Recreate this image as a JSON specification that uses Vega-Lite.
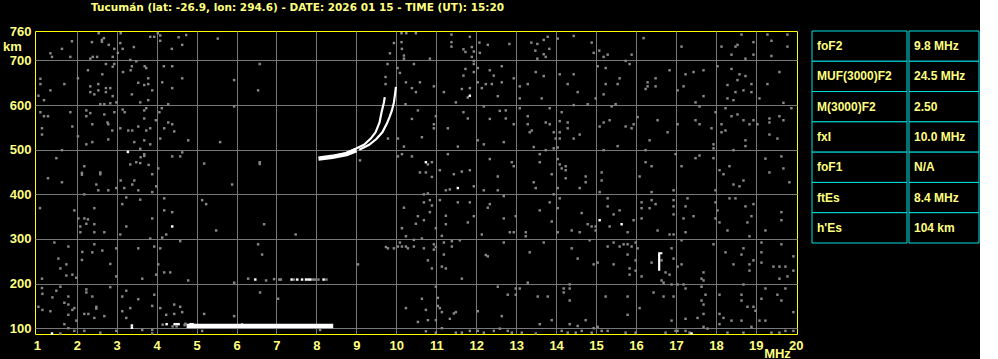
{
  "$schema": "https://vega.github.io/schema/vega-lite/v6.json",
  "background": "#000000",
  "padding": {"left": 2, "top": 2, "right": 0, "bottom": 0},
  "title": {"text": "Tucumán (lat: -26.9, lon: 294.6) - DATE: 2026 01 15 - TIME (UT): 15:20", "anchor": "start", "frame": "bounds", "dx": 89, "offset": 12, "font": "DejaVu Sans", "fontWeight": "bold", "fontSize": 10.5, "color": "#ffff80"},
  "spacing": 7,
  "config": {
    "view": {"stroke": null},
    "axis": {"ticks": false, "domain": false, "gridColor": "#777777", "gridWidth": 1, "labelFont": "Liberation Sans", "labelFontWeight": "bold", "labelFontSize": 13, "labelColor": "#ffff80", "titleFont": "Liberation Sans", "titleFontWeight": "bold", "titleFontSize": 13, "titleColor": "#ffff80", "labelFlush": false, "labelOverlap": false, "labelBound": false}
  },
  "datasets": {
    "noise": [
      {"f":2.55,"h":761,"amp":"lo"},{"f":2.68,"h":750,"amp":"lo"},{"f":2.63,"h":746,"amp":"lo"},{"f":2.63,"h":742,"amp":"lo"},{"f":2.38,"h":741,"amp":"lo"},{"f":1.88,"h":743,"amp":"lo"},{"f":1.63,"h":726,"amp":"lo"},{"f":1.34,"h":716,"amp":"lo"},{"f":1.38,"h":708,"amp":"lo"},{"f":1.84,"h":708,"amp":"lo"},{"f":2.34,"h":704,"amp":"lo"},{"f":2.40,"h":708,"amp":"lo"},{"f":2.51,"h":708,"amp":"lo"},{"f":2.90,"h":708,"amp":"lo"},{"f":2.94,"h":726,"amp":"lo"},{"f":2.80,"h":735,"amp":"lo"},{"f":3.03,"h":717,"amp":"lo"},{"f":3.10,"h":761,"amp":"lo"},{"f":3.15,"h":726,"amp":"lo"},{"f":3.09,"h":739,"amp":"lo"},{"f":3.43,"h":730,"amp":"lo"},{"f":3.84,"h":753,"amp":"lo"},{"f":3.94,"h":753,"amp":"lo"},{"f":4.03,"h":761,"amp":"lo"},{"f":4.09,"h":756,"amp":"lo"},{"f":4.09,"h":744,"amp":"lo"},{"f":4.55,"h":752,"amp":"lo"},{"f":4.74,"h":757,"amp":"lo"},{"f":4.64,"h":735,"amp":"lo"},{"f":4.38,"h":726,"amp":"lo"},{"f":5.53,"h":749,"amp":"lo"},{"f":3.34,"h":701,"amp":"lo"},{"f":3.49,"h":698,"amp":"lo"},{"f":2.73,"h":692,"amp":"lo"},{"f":2.90,"h":686,"amp":"lo"},{"f":2.94,"h":692,"amp":"lo"},{"f":3.38,"h":687,"amp":"lo"},{"f":3.35,"h":678,"amp":"lo"},{"f":3.16,"h":674,"amp":"lo"},{"f":3.70,"h":687,"amp":"lo"},{"f":3.74,"h":683,"amp":"lo"},{"f":4.18,"h":687,"amp":"lo"},{"f":4.39,"h":687,"amp":"lo"},{"f":2.28,"h":678,"amp":"lo"},{"f":2.03,"h":660,"amp":"lo"},{"f":2.64,"h":669,"amp":"lo"},{"f":1.09,"h":659,"amp":"lo"},{"f":1.09,"h":647,"amp":"lo"},{"f":1.69,"h":647,"amp":"lo"},{"f":1.34,"h":633,"amp":"lo"},{"f":1.04,"h":621,"amp":"lo"},{"f":1.18,"h":611,"amp":"lo"},{"f":2.34,"h":642,"amp":"lo"},{"f":2.54,"h":647,"amp":"lo"},{"f":2.73,"h":638,"amp":"lo"},{"f":2.84,"h":638,"amp":"lo"},{"f":2.73,"h":629,"amp":"lo"},{"f":2.54,"h":633,"amp":"lo"},{"f":2.44,"h":624,"amp":"lo"},{"f":2.34,"h":629,"amp":"lo"},{"f":2.90,"h":620,"amp":"lo"},{"f":3.54,"h":650,"amp":"lo"},{"f":3.69,"h":645,"amp":"lo"},{"f":3.79,"h":647,"amp":"lo"},{"f":3.89,"h":633,"amp":"lo"},{"f":3.79,"h":660,"amp":"lo"},{"f":4.14,"h":651,"amp":"lo"},{"f":4.39,"h":638,"amp":"lo"},{"f":4.64,"h":660,"amp":"lo"},{"f":5.94,"h":656,"amp":"lo"},{"f":6.58,"h":692,"amp":"lo"},{"f":6.54,"h":633,"amp":"lo"},{"f":3.38,"h":624,"amp":"lo"},{"f":3.59,"h":606,"amp":"lo"},{"f":3.79,"h":611,"amp":"lo"},{"f":2.59,"h":602,"amp":"lo"},{"f":2.69,"h":602,"amp":"lo"},{"f":2.84,"h":604,"amp":"lo"},{"f":2.99,"h":606,"amp":"lo"},{"f":4.29,"h":602,"amp":"lo"},{"f":5.94,"h":597,"amp":"lo"},{"f":1.09,"h":584,"amp":"lo"},{"f":1.18,"h":575,"amp":"lo"},{"f":1.28,"h":575,"amp":"lo"},{"f":1.84,"h":584,"amp":"lo"},{"f":2.24,"h":588,"amp":"lo"},{"f":2.34,"h":582,"amp":"lo"},{"f":2.24,"h":575,"amp":"lo"},{"f":2.69,"h":579,"amp":"lo"},{"f":2.94,"h":584,"amp":"lo"},{"f":3.15,"h":590,"amp":"lo"},{"f":3.20,"h":584,"amp":"lo"},{"f":3.69,"h":588,"amp":"lo"},{"f":3.74,"h":593,"amp":"lo"},{"f":4.13,"h":593,"amp":"lo"},{"f":4.07,"h":584,"amp":"lo"},{"f":3.98,"h":566,"amp":"lo"},{"f":3.69,"h":570,"amp":"lo"},{"f":2.77,"h":561,"amp":"lo"},{"f":2.79,"h":557,"amp":"lo"},{"f":2.39,"h":557,"amp":"lo"},{"f":1.89,"h":552,"amp":"lo"},{"f":1.13,"h":548,"amp":"lo"},{"f":1.13,"h":534,"amp":"lo"},{"f":2.03,"h":530,"amp":"lo"},{"f":2.89,"h":543,"amp":"lo"},{"f":3.09,"h":548,"amp":"lo"},{"f":3.29,"h":543,"amp":"lo"},{"f":3.39,"h":543,"amp":"lo"},{"f":3.54,"h":552,"amp":"lo"},{"f":3.74,"h":543,"amp":"lo"},{"f":3.84,"h":548,"amp":"lo"},{"f":4.29,"h":561,"amp":"lo"},{"f":4.39,"h":557,"amp":"lo"},{"f":4.44,"h":541,"amp":"lo"},{"f":4.19,"h":548,"amp":"lo"},{"f":4.09,"h":525,"amp":"lo"},{"f":4.79,"h":521,"amp":"lo"},{"f":5.59,"h":517,"amp":"lo"},{"f":2.79,"h":523,"amp":"lo"},{"f":2.39,"h":517,"amp":"lo"},{"f":2.24,"h":512,"amp":"lo"},{"f":3.44,"h":517,"amp":"lo"},{"f":3.69,"h":521,"amp":"lo"},{"f":3.84,"h":512,"amp":"lo"},{"f":3.59,"h":502,"amp":"lo"},{"f":1.63,"h":499,"amp":"lo"},{"f":1.49,"h":481,"amp":"lo"},{"f":2.19,"h":463,"amp":"lo"},{"f":2.13,"h":448,"amp":"lo"},{"f":2.13,"h":444,"amp":"lo"},{"f":2.59,"h":449,"amp":"lo"},{"f":2.59,"h":445,"amp":"lo"},{"f":3.60,"h":483,"amp":"lo"},{"f":3.69,"h":490,"amp":"lo"},{"f":3.69,"h":486,"amp":"lo"},{"f":3.59,"h":470,"amp":"lo"},{"f":3.49,"h":472,"amp":"lo"},{"f":3.34,"h":467,"amp":"lo"},{"f":3.80,"h":466,"amp":"lo"},{"f":4.04,"h":458,"amp":"lo"},{"f":3.89,"h":445,"amp":"lo"},{"f":4.39,"h":485,"amp":"lo"},{"f":4.59,"h":485,"amp":"lo"},{"f":4.64,"h":494,"amp":"lo"},{"f":5.19,"h":469,"amp":"lo"},{"f":6.58,"h":472,"amp":"lo"},{"f":6.58,"h":468,"amp":"lo"},{"f":1.28,"h":436,"amp":"lo"},{"f":1.63,"h":427,"amp":"lo"},{"f":3.10,"h":431,"amp":"lo"},{"f":3.44,"h":431,"amp":"lo"},{"f":3.28,"h":495,"amp":"hi"},
      {"f":10.13,"h":761,"amp":"lo"},{"f":10.25,"h":761,"amp":"lo"},{"f":10.49,"h":761,"amp":"lo"},{"f":10.13,"h":741,"amp":"lo"},{"f":9.94,"h":739,"amp":"lo"},{"f":9.84,"h":716,"amp":"lo"},{"f":10.14,"h":726,"amp":"lo"},{"f":10.19,"h":711,"amp":"lo"},{"f":10.19,"h":704,"amp":"lo"},{"f":10.84,"h":704,"amp":"lo"},{"f":11.38,"h":758,"amp":"lo"},{"f":11.38,"h":741,"amp":"lo"},{"f":11.38,"h":731,"amp":"lo"},{"f":11.84,"h":753,"amp":"lo"},{"f":12.08,"h":740,"amp":"lo"},{"f":12.29,"h":735,"amp":"lo"},{"f":11.68,"h":725,"amp":"lo"},{"f":11.73,"h":719,"amp":"lo"},{"f":11.89,"h":730,"amp":"lo"},{"f":11.94,"h":720,"amp":"lo"},{"f":12.09,"h":717,"amp":"lo"},{"f":11.89,"h":708,"amp":"lo"},{"f":11.94,"h":699,"amp":"lo"},{"f":12.83,"h":737,"amp":"lo"},{"f":13.38,"h":740,"amp":"lo"},{"f":13.53,"h":737,"amp":"lo"},{"f":13.48,"h":722,"amp":"lo"},{"f":13.53,"h":704,"amp":"lo"},{"f":9.78,"h":692,"amp":"lo"},{"f":10.03,"h":683,"amp":"lo"},{"f":10.09,"h":672,"amp":"lo"},{"f":10.44,"h":692,"amp":"lo"},{"f":9.73,"h":663,"amp":"lo"},{"f":9.73,"h":647,"amp":"lo"},{"f":10.24,"h":651,"amp":"lo"},{"f":10.39,"h":638,"amp":"lo"},{"f":10.49,"h":629,"amp":"lo"},{"f":10.59,"h":651,"amp":"lo"},{"f":10.94,"h":642,"amp":"lo"},{"f":11.19,"h":629,"amp":"lo"},{"f":11.73,"h":681,"amp":"lo"},{"f":11.94,"h":692,"amp":"lo"},{"f":12.04,"h":683,"amp":"lo"},{"f":11.94,"h":674,"amp":"lo"},{"f":11.68,"h":666,"amp":"lo"},{"f":12.34,"h":678,"amp":"lo"},{"f":12.44,"h":666,"amp":"lo"},{"f":12.64,"h":687,"amp":"lo"},{"f":12.04,"h":651,"amp":"lo"},{"f":12.24,"h":647,"amp":"lo"},{"f":12.39,"h":647,"amp":"lo"},{"f":12.64,"h":651,"amp":"lo"},{"f":12.14,"h":638,"amp":"lo"},{"f":11.84,"h":638,"amp":"lo"},{"f":11.64,"h":636,"amp":"lo"},{"f":11.49,"h":606,"amp":"lo"},{"f":11.79,"h":617,"amp":"lo"},{"f":12.54,"h":620,"amp":"lo"},{"f":12.94,"h":660,"amp":"lo"},{"f":13.09,"h":642,"amp":"lo"},{"f":13.29,"h":647,"amp":"lo"},{"f":13.49,"h":674,"amp":"lo"},{"f":13.09,"h":615,"amp":"lo"},{"f":13.64,"h":615,"amp":"lo"},{"f":10.23,"h":602,"amp":"lo"},{"f":10.54,"h":588,"amp":"lo"},{"f":10.99,"h":575,"amp":"lo"},{"f":10.94,"h":557,"amp":"lo"},{"f":10.94,"h":548,"amp":"lo"},{"f":10.39,"h":569,"amp":"lo"},{"f":11.68,"h":584,"amp":"lo"},{"f":11.79,"h":570,"amp":"lo"},{"f":12.19,"h":597,"amp":"lo"},{"f":12.59,"h":587,"amp":"lo"},{"f":12.74,"h":588,"amp":"lo"},{"f":12.34,"h":569,"amp":"lo"},{"f":12.74,"h":570,"amp":"lo"},{"f":12.94,"h":557,"amp":"lo"},{"f":13.09,"h":593,"amp":"lo"},{"f":13.29,"h":575,"amp":"lo"},{"f":13.29,"h":557,"amp":"lo"},{"f":13.34,"h":539,"amp":"lo"},{"f":13.39,"h":543,"amp":"lo"},{"f":10.64,"h":528,"amp":"lo"},{"f":11.29,"h":548,"amp":"lo"},{"f":12.04,"h":521,"amp":"lo"},{"f":12.19,"h":512,"amp":"lo"},{"f":12.69,"h":517,"amp":"lo"},{"f":13.44,"h":506,"amp":"lo"},{"f":11.54,"h":507,"amp":"lo"},{"f":10.19,"h":507,"amp":"lo"},{"f":10.04,"h":525,"amp":"lo"},{"f":9.79,"h":525,"amp":"lo"},{"f":9.09,"h":476,"amp":"lo"},{"f":10.04,"h":485,"amp":"lo"},{"f":10.14,"h":490,"amp":"lo"},{"f":10.39,"h":485,"amp":"lo"},{"f":10.79,"h":467,"amp":"lo"},{"f":10.89,"h":472,"amp":"lo"},{"f":10.59,"h":449,"amp":"lo"},{"f":10.74,"h":449,"amp":"lo"},{"f":11.09,"h":454,"amp":"lo"},{"f":10.89,"h":439,"amp":"lo"},{"f":11.29,"h":490,"amp":"lo"},{"f":11.44,"h":445,"amp":"lo"},{"f":11.64,"h":451,"amp":"lo"},{"f":11.84,"h":454,"amp":"lo"},{"f":12.34,"h":479,"amp":"lo"},{"f":12.54,"h":440,"amp":"lo"},{"f":12.89,"h":472,"amp":"lo"},{"f":12.94,"h":463,"amp":"lo"},{"f":13.59,"h":490,"amp":"lo"},{"f":13.59,"h":472,"amp":"lo"},{"f":13.44,"h":427,"amp":"lo"},{"f":10.74,"h":472,"amp":"hi"},{"f":11.84,"h":621,"amp":"hi"},
      {"f":13.69,"h":746,"amp":"lo"},{"f":13.79,"h":753,"amp":"lo"},{"f":14.04,"h":749,"amp":"lo"},{"f":14.44,"h":755,"amp":"lo"},{"f":13.83,"h":726,"amp":"lo"},{"f":13.74,"h":708,"amp":"lo"},{"f":13.69,"h":714,"amp":"lo"},{"f":14.89,"h":740,"amp":"lo"},{"f":14.94,"h":717,"amp":"lo"},{"f":15.08,"h":722,"amp":"lo"},{"f":15.19,"h":708,"amp":"lo"},{"f":15.29,"h":713,"amp":"lo"},{"f":15.89,"h":713,"amp":"lo"},{"f":16.19,"h":750,"amp":"lo"},{"f":17.14,"h":731,"amp":"lo"},{"f":18.14,"h":731,"amp":"lo"},{"f":18.49,"h":731,"amp":"lo"},{"f":18.54,"h":735,"amp":"lo"},{"f":18.39,"h":713,"amp":"lo"},{"f":18.64,"h":758,"amp":"lo"},{"f":18.74,"h":704,"amp":"lo"},{"f":18.94,"h":741,"amp":"lo"},{"f":18.94,"h":713,"amp":"lo"},{"f":19.29,"h":758,"amp":"lo"},{"f":19.39,"h":744,"amp":"lo"},{"f":19.39,"h":710,"amp":"lo"},{"f":19.79,"h":758,"amp":"lo"},{"f":19.79,"h":731,"amp":"lo"},{"f":15.74,"h":699,"amp":"lo"},{"f":15.84,"h":692,"amp":"lo"},{"f":15.04,"h":687,"amp":"lo"},{"f":15.24,"h":683,"amp":"lo"},{"f":15.59,"h":660,"amp":"lo"},{"f":15.54,"h":647,"amp":"lo"},{"f":15.24,"h":647,"amp":"lo"},{"f":15.19,"h":624,"amp":"lo"},{"f":14.54,"h":629,"amp":"lo"},{"f":14.29,"h":647,"amp":"lo"},{"f":14.09,"h":669,"amp":"lo"},{"f":14.44,"h":669,"amp":"lo"},{"f":13.69,"h":665,"amp":"lo"},{"f":14.99,"h":615,"amp":"lo"},{"f":14.79,"h":602,"amp":"lo"},{"f":14.44,"h":600,"amp":"lo"},{"f":15.49,"h":602,"amp":"lo"},{"f":15.39,"h":597,"amp":"lo"},{"f":16.29,"h":651,"amp":"lo"},{"f":16.24,"h":636,"amp":"lo"},{"f":16.29,"h":642,"amp":"lo"},{"f":16.49,"h":660,"amp":"lo"},{"f":16.49,"h":642,"amp":"lo"},{"f":16.84,"h":678,"amp":"lo"},{"f":17.24,"h":669,"amp":"lo"},{"f":17.44,"h":674,"amp":"lo"},{"f":17.69,"h":678,"amp":"lo"},{"f":17.19,"h":642,"amp":"lo"},{"f":17.04,"h":633,"amp":"lo"},{"f":17.49,"h":606,"amp":"lo"},{"f":17.69,"h":620,"amp":"lo"},{"f":17.59,"h":597,"amp":"lo"},{"f":18.04,"h":687,"amp":"lo"},{"f":18.39,"h":681,"amp":"lo"},{"f":18.59,"h":669,"amp":"lo"},{"f":18.74,"h":665,"amp":"lo"},{"f":18.54,"h":656,"amp":"lo"},{"f":18.89,"h":647,"amp":"lo"},{"f":18.29,"h":645,"amp":"lo"},{"f":18.69,"h":633,"amp":"lo"},{"f":18.49,"h":629,"amp":"lo"},{"f":18.89,"h":629,"amp":"lo"},{"f":18.29,"h":615,"amp":"lo"},{"f":18.44,"h":611,"amp":"lo"},{"f":19.09,"h":615,"amp":"lo"},{"f":19.29,"h":647,"amp":"lo"},{"f":19.59,"h":674,"amp":"lo"},{"f":19.69,"h":605,"amp":"lo"},{"f":19.89,"h":593,"amp":"lo"},{"f":13.84,"h":593,"amp":"lo"},{"f":14.14,"h":584,"amp":"lo"},{"f":14.09,"h":564,"amp":"lo"},{"f":13.74,"h":561,"amp":"lo"},{"f":13.84,"h":557,"amp":"lo"},{"f":14.29,"h":561,"amp":"lo"},{"f":14.29,"h":548,"amp":"lo"},{"f":13.94,"h":539,"amp":"lo"},{"f":14.09,"h":539,"amp":"lo"},{"f":14.09,"h":525,"amp":"lo"},{"f":14.44,"h":525,"amp":"lo"},{"f":14.59,"h":534,"amp":"lo"},{"f":13.99,"h":525,"amp":"lo"},{"f":14.04,"h":505,"amp":"lo"},{"f":13.94,"h":503,"amp":"lo"},{"f":15.19,"h":561,"amp":"lo"},{"f":15.34,"h":566,"amp":"lo"},{"f":15.09,"h":552,"amp":"lo"},{"f":15.74,"h":552,"amp":"lo"},{"f":15.89,"h":548,"amp":"lo"},{"f":15.94,"h":557,"amp":"lo"},{"f":16.04,"h":573,"amp":"lo"},{"f":16.54,"h":566,"amp":"lo"},{"f":16.79,"h":539,"amp":"lo"},{"f":16.34,"h":521,"amp":"lo"},{"f":15.54,"h":508,"amp":"lo"},{"f":17.04,"h":557,"amp":"lo"},{"f":17.49,"h":566,"amp":"lo"},{"f":17.59,"h":557,"amp":"lo"},{"f":17.89,"h":548,"amp":"lo"},{"f":17.99,"h":584,"amp":"lo"},{"f":18.24,"h":593,"amp":"lo"},{"f":18.39,"h":575,"amp":"lo"},{"f":18.54,"h":579,"amp":"lo"},{"f":18.14,"h":557,"amp":"lo"},{"f":18.24,"h":543,"amp":"lo"},{"f":18.14,"h":539,"amp":"lo"},{"f":18.69,"h":566,"amp":"lo"},{"f":18.84,"h":557,"amp":"lo"},{"f":18.94,"h":566,"amp":"lo"},{"f":19.04,"h":557,"amp":"lo"},{"f":19.34,"h":570,"amp":"lo"},{"f":19.34,"h":561,"amp":"lo"},{"f":19.59,"h":575,"amp":"lo"},{"f":19.69,"h":566,"amp":"lo"},{"f":19.34,"h":534,"amp":"lo"},{"f":19.54,"h":525,"amp":"lo"},{"f":18.74,"h":521,"amp":"lo"},{"f":18.74,"h":508,"amp":"lo"},{"f":17.94,"h":512,"amp":"lo"},{"f":17.94,"h":503,"amp":"lo"},{"f":18.44,"h":499,"amp":"lo"},{"f":13.74,"h":499,"amp":"lo"},{"f":15.19,"h":499,"amp":"lo"},{"f":16.24,"h":499,"amp":"lo"},{"f":16.99,"h":490,"amp":"lo"},{"f":17.49,"h":481,"amp":"lo"},{"f":17.59,"h":487,"amp":"lo"},{"f":17.94,"h":481,"amp":"lo"},{"f":14.04,"h":479,"amp":"lo"},{"f":14.09,"h":467,"amp":"lo"},{"f":14.14,"h":458,"amp":"lo"},{"f":14.24,"h":463,"amp":"lo"},{"f":14.24,"h":454,"amp":"lo"},{"f":13.89,"h":445,"amp":"lo"},{"f":14.24,"h":436,"amp":"lo"},{"f":14.74,"h":440,"amp":"lo"},{"f":14.74,"h":427,"amp":"lo"},{"f":15.14,"h":449,"amp":"lo"},{"f":15.14,"h":431,"amp":"lo"},{"f":16.09,"h":440,"amp":"lo"},{"f":16.24,"h":472,"amp":"lo"},{"f":16.39,"h":463,"amp":"lo"},{"f":17.14,"h":463,"amp":"lo"},{"f":18.09,"h":454,"amp":"lo"},{"f":18.19,"h":445,"amp":"lo"},{"f":18.34,"h":463,"amp":"lo"},{"f":18.69,"h":431,"amp":"lo"},{"f":19.24,"h":480,"amp":"lo"},{"f":19.64,"h":485,"amp":"lo"},{"f":19.69,"h":458,"amp":"lo"},{"f":19.34,"h":449,"amp":"lo"},{"f":19.84,"h":427,"amp":"lo"},
      {"f":2.49,"h":422,"amp":"lo"},{"f":2.54,"h":409,"amp":"lo"},{"f":2.79,"h":409,"amp":"lo"},{"f":2.99,"h":414,"amp":"lo"},{"f":3.19,"h":414,"amp":"lo"},{"f":3.39,"h":422,"amp":"lo"},{"f":3.54,"h":409,"amp":"lo"},{"f":3.89,"h":405,"amp":"lo"},{"f":3.99,"h":418,"amp":"lo"},{"f":1.08,"h":369,"amp":"lo"},{"f":1.94,"h":364,"amp":"lo"},{"f":2.19,"h":400,"amp":"lo"},{"f":2.04,"h":346,"amp":"lo"},{"f":2.19,"h":346,"amp":"lo"},{"f":2.28,"h":344,"amp":"lo"},{"f":2.24,"h":334,"amp":"lo"},{"f":2.44,"h":369,"amp":"lo"},{"f":2.44,"h":333,"amp":"lo"},{"f":2.09,"h":328,"amp":"lo"},{"f":2.09,"h":315,"amp":"lo"},{"f":2.44,"h":315,"amp":"lo"},{"f":2.69,"h":315,"amp":"lo"},{"f":3.24,"h":393,"amp":"lo"},{"f":3.59,"h":388,"amp":"lo"},{"f":3.14,"h":378,"amp":"lo"},{"f":3.24,"h":328,"amp":"lo"},{"f":3.09,"h":310,"amp":"lo"},{"f":3.89,"h":346,"amp":"lo"},{"f":4.19,"h":391,"amp":"lo"},{"f":4.19,"h":364,"amp":"lo"},{"f":4.39,"h":360,"amp":"lo"},{"f":4.24,"h":310,"amp":"lo"},{"f":4.14,"h":303,"amp":"lo"},{"f":3.84,"h":301,"amp":"lo"},{"f":4.59,"h":295,"amp":"lo"},{"f":5.14,"h":387,"amp":"lo"},{"f":5.24,"h":378,"amp":"lo"},{"f":5.49,"h":319,"amp":"lo"},{"f":6.69,"h":333,"amp":"lo"},{"f":5.89,"h":422,"amp":"lo"},{"f":1.44,"h":292,"amp":"lo"},{"f":1.79,"h":283,"amp":"lo"},{"f":2.44,"h":288,"amp":"lo"},{"f":2.14,"h":271,"amp":"lo"},{"f":2.39,"h":270,"amp":"lo"},{"f":2.64,"h":274,"amp":"lo"},{"f":2.99,"h":279,"amp":"lo"},{"f":3.54,"h":279,"amp":"lo"},{"f":3.94,"h":283,"amp":"lo"},{"f":4.09,"h":279,"amp":"lo"},{"f":6.54,"h":288,"amp":"lo"},{"f":6.64,"h":265,"amp":"lo"},{"f":1.54,"h":256,"amp":"lo"},{"f":1.74,"h":243,"amp":"lo"},{"f":1.59,"h":234,"amp":"lo"},{"f":1.74,"h":218,"amp":"lo"},{"f":1.89,"h":220,"amp":"lo"},{"f":1.99,"h":213,"amp":"lo"},{"f":2.13,"h":253,"amp":"lo"},{"f":2.84,"h":244,"amp":"lo"},{"f":2.99,"h":216,"amp":"lo"},{"f":3.64,"h":211,"amp":"lo"},{"f":4.04,"h":243,"amp":"lo"},{"f":3.99,"h":220,"amp":"lo"},{"f":4.19,"h":225,"amp":"lo"},{"f":4.34,"h":225,"amp":"lo"},{"f":4.79,"h":207,"amp":"lo"},{"f":5.94,"h":202,"amp":"lo"},{"f":1.13,"h":211,"amp":"lo"},{"f":1.13,"h":190,"amp":"lo"},{"f":1.14,"h":177,"amp":"lo"},{"f":1.49,"h":184,"amp":"lo"},{"f":1.59,"h":193,"amp":"lo"},{"f":1.39,"h":169,"amp":"lo"},{"f":1.79,"h":171,"amp":"lo"},{"f":1.69,"h":157,"amp":"lo"},{"f":1.79,"h":153,"amp":"lo"},{"f":1.89,"h":141,"amp":"lo"},{"f":1.94,"h":145,"amp":"lo"},{"f":1.79,"h":130,"amp":"lo"},{"f":1.04,"h":148,"amp":"lo"},{"f":1.14,"h":141,"amp":"lo"},{"f":1.34,"h":138,"amp":"lo"},{"f":1.69,"h":109,"amp":"lo"},{"f":1.79,"h":100,"amp":"lo"},{"f":1.99,"h":117,"amp":"lo"},{"f":1.94,"h":94,"amp":"lo"},{"f":2.24,"h":187,"amp":"lo"},{"f":2.24,"h":180,"amp":"lo"},{"f":2.49,"h":148,"amp":"lo"},{"f":2.49,"h":144,"amp":"lo"},{"f":2.39,"h":171,"amp":"lo"},{"f":2.84,"h":192,"amp":"lo"},{"f":3.24,"h":184,"amp":"lo"},{"f":3.14,"h":171,"amp":"lo"},{"f":3.14,"h":138,"amp":"lo"},{"f":3.34,"h":145,"amp":"lo"},{"f":3.54,"h":165,"amp":"lo"},{"f":3.94,"h":175,"amp":"lo"},{"f":3.89,"h":150,"amp":"lo"},{"f":4.09,"h":145,"amp":"lo"},{"f":2.19,"h":132,"amp":"lo"},{"f":2.29,"h":132,"amp":"lo"},{"f":2.44,"h":123,"amp":"lo"},{"f":2.69,"h":127,"amp":"lo"},{"f":3.24,"h":123,"amp":"lo"},{"f":4.24,"h":130,"amp":"lo"},{"f":4.44,"h":132,"amp":"lo"},{"f":4.64,"h":136,"amp":"lo"},{"f":4.59,"h":148,"amp":"lo"},{"f":4.44,"h":153,"amp":"lo"},{"f":5.14,"h":94,"amp":"lo"},{"f":5.19,"h":132,"amp":"lo"},{"f":5.94,"h":127,"amp":"lo"},{"f":6.14,"h":109,"amp":"lo"},{"f":6.59,"h":180,"amp":"lo"},{"f":7.04,"h":166,"amp":"lo"},{"f":2.19,"h":94,"amp":"lo"},{"f":2.59,"h":90,"amp":"lo"},{"f":2.99,"h":94,"amp":"lo"},{"f":3.64,"h":96,"amp":"lo"},{"f":3.89,"h":96,"amp":"lo"},{"f":3.89,"h":88,"amp":"lo"},{"f":1.59,"h":88,"amp":"lo"},{"f":4.39,"h":328,"amp":"hi"},{"f":3.38,"h":101,"amp":"hi"},{"f":3.38,"h":106,"amp":"hi"},{"f":1.38,"h":88,"amp":"hi"},
      {"f":10.79,"h":402,"amp":"lo"},{"f":10.69,"h":400,"amp":"lo"},{"f":11.34,"h":411,"amp":"lo"},{"f":11.24,"h":409,"amp":"lo"},{"f":11.94,"h":418,"amp":"lo"},{"f":12.19,"h":409,"amp":"lo"},{"f":12.54,"h":409,"amp":"lo"},{"f":13.49,"h":414,"amp":"lo"},{"f":10.84,"h":387,"amp":"lo"},{"f":11.09,"h":387,"amp":"lo"},{"f":10.89,"h":375,"amp":"lo"},{"f":10.69,"h":382,"amp":"lo"},{"f":10.19,"h":370,"amp":"lo"},{"f":11.54,"h":382,"amp":"lo"},{"f":11.84,"h":382,"amp":"lo"},{"f":12.29,"h":370,"amp":"lo"},{"f":12.34,"h":378,"amp":"lo"},{"f":12.69,"h":396,"amp":"lo"},{"f":13.59,"h":364,"amp":"lo"},{"f":10.54,"h":351,"amp":"lo"},{"f":10.49,"h":334,"amp":"lo"},{"f":10.69,"h":342,"amp":"lo"},{"f":10.84,"h":360,"amp":"lo"},{"f":11.24,"h":352,"amp":"lo"},{"f":11.24,"h":333,"amp":"lo"},{"f":11.94,"h":351,"amp":"lo"},{"f":11.79,"h":337,"amp":"lo"},{"f":12.69,"h":346,"amp":"lo"},{"f":12.99,"h":351,"amp":"lo"},{"f":10.14,"h":324,"amp":"lo"},{"f":10.24,"h":306,"amp":"lo"},{"f":10.44,"h":298,"amp":"lo"},{"f":10.64,"h":301,"amp":"lo"},{"f":10.99,"h":324,"amp":"lo"},{"f":11.14,"h":307,"amp":"lo"},{"f":11.19,"h":292,"amp":"lo"},{"f":11.39,"h":295,"amp":"lo"},{"f":11.59,"h":297,"amp":"lo"},{"f":12.14,"h":310,"amp":"lo"},{"f":12.84,"h":315,"amp":"lo"},{"f":12.94,"h":315,"amp":"lo"},{"f":13.24,"h":315,"amp":"lo"},{"f":13.24,"h":306,"amp":"lo"},{"f":12.69,"h":292,"amp":"lo"},{"f":7.48,"h":310,"amp":"lo"},{"f":10.09,"h":292,"amp":"lo"},{"f":9.74,"h":282,"amp":"lo"},{"f":9.79,"h":279,"amp":"lo"},{"f":9.94,"h":279,"amp":"lo"},{"f":10.04,"h":283,"amp":"lo"},{"f":10.14,"h":283,"amp":"lo"},{"f":10.24,"h":283,"amp":"lo"},{"f":10.29,"h":279,"amp":"lo"},{"f":10.44,"h":283,"amp":"lo"},{"f":10.69,"h":279,"amp":"lo"},{"f":10.94,"h":288,"amp":"lo"},{"f":10.99,"h":282,"amp":"lo"},{"f":10.94,"h":276,"amp":"lo"},{"f":11.39,"h":283,"amp":"lo"},{"f":11.19,"h":265,"amp":"lo"},{"f":10.79,"h":252,"amp":"lo"},{"f":10.89,"h":234,"amp":"lo"},{"f":11.14,"h":238,"amp":"lo"},{"f":11.24,"h":234,"amp":"lo"},{"f":11.64,"h":211,"amp":"lo"},{"f":12.24,"h":264,"amp":"lo"},{"f":12.29,"h":261,"amp":"lo"},{"f":13.34,"h":270,"amp":"lo"},{"f":9.04,"h":243,"amp":"lo"},{"f":13.29,"h":202,"amp":"lo"},{"f":13.09,"h":189,"amp":"lo"},{"f":12.99,"h":189,"amp":"lo"},{"f":12.54,"h":193,"amp":"lo"},{"f":12.79,"h":175,"amp":"lo"},{"f":12.99,"h":175,"amp":"lo"},{"f":13.54,"h":171,"amp":"lo"},{"f":10.99,"h":193,"amp":"lo"},{"f":11.04,"h":168,"amp":"lo"},{"f":10.64,"h":166,"amp":"lo"},{"f":10.24,"h":145,"amp":"lo"},{"f":10.74,"h":141,"amp":"lo"},{"f":11.04,"h":150,"amp":"lo"},{"f":11.09,"h":145,"amp":"lo"},{"f":11.14,"h":136,"amp":"lo"},{"f":11.44,"h":133,"amp":"lo"},{"f":11.49,"h":136,"amp":"lo"},{"f":11.34,"h":121,"amp":"lo"},{"f":10.54,"h":114,"amp":"lo"},{"f":10.79,"h":118,"amp":"lo"},{"f":10.99,"h":118,"amp":"lo"},{"f":12.04,"h":138,"amp":"lo"},{"f":12.64,"h":127,"amp":"lo"},{"f":13.59,"h":109,"amp":"lo"},{"f":11.14,"h":100,"amp":"lo"},{"f":10.99,"h":90,"amp":"lo"},{"f":11.49,"h":90,"amp":"lo"},{"f":11.64,"h":90,"amp":"lo"},{"f":11.84,"h":94,"amp":"lo"},{"f":12.04,"h":94,"amp":"lo"},{"f":12.19,"h":90,"amp":"lo"},{"f":12.44,"h":94,"amp":"lo"},{"f":12.59,"h":99,"amp":"lo"},{"f":12.79,"h":94,"amp":"lo"},{"f":12.89,"h":90,"amp":"lo"},{"f":13.14,"h":90,"amp":"lo"},{"f":13.49,"h":88,"amp":"lo"},{"f":10.74,"h":93,"amp":"lo"},{"f":8.09,"h":96,"amp":"lo"},{"f":11.54,"h":414,"amp":"hi"},
      {"f":14.04,"h":414,"amp":"lo"},{"f":14.59,"h":414,"amp":"lo"},{"f":15.09,"h":405,"amp":"lo"},{"f":16.39,"h":405,"amp":"lo"},{"f":16.94,"h":409,"amp":"lo"},{"f":17.99,"h":409,"amp":"lo"},{"f":18.44,"h":422,"amp":"lo"},{"f":18.59,"h":418,"amp":"lo"},{"f":13.94,"h":400,"amp":"lo"},{"f":13.84,"h":382,"amp":"lo"},{"f":14.04,"h":369,"amp":"lo"},{"f":13.89,"h":339,"amp":"lo"},{"f":14.09,"h":391,"amp":"lo"},{"f":14.64,"h":358,"amp":"lo"},{"f":15.29,"h":373,"amp":"lo"},{"f":15.29,"h":391,"amp":"lo"},{"f":15.59,"h":364,"amp":"lo"},{"f":15.44,"h":355,"amp":"lo"},{"f":15.94,"h":342,"amp":"lo"},{"f":16.14,"h":382,"amp":"lo"},{"f":16.14,"h":369,"amp":"lo"},{"f":16.39,"h":387,"amp":"lo"},{"f":16.49,"h":378,"amp":"lo"},{"f":16.34,"h":369,"amp":"lo"},{"f":16.14,"h":346,"amp":"lo"},{"f":16.94,"h":387,"amp":"lo"},{"f":16.94,"h":373,"amp":"lo"},{"f":16.94,"h":355,"amp":"lo"},{"f":17.24,"h":373,"amp":"lo"},{"f":17.29,"h":391,"amp":"lo"},{"f":17.44,"h":351,"amp":"lo"},{"f":17.19,"h":346,"amp":"lo"},{"f":17.99,"h":382,"amp":"lo"},{"f":18.04,"h":364,"amp":"lo"},{"f":17.99,"h":346,"amp":"lo"},{"f":18.34,"h":391,"amp":"lo"},{"f":18.49,"h":391,"amp":"lo"},{"f":18.74,"h":373,"amp":"lo"},{"f":18.94,"h":378,"amp":"lo"},{"f":18.89,"h":351,"amp":"lo"},{"f":18.79,"h":337,"amp":"lo"},{"f":19.64,"h":360,"amp":"lo"},{"f":19.64,"h":342,"amp":"lo"},{"f":14.79,"h":333,"amp":"lo"},{"f":14.89,"h":328,"amp":"lo"},{"f":14.99,"h":328,"amp":"lo"},{"f":14.99,"h":319,"amp":"lo"},{"f":14.59,"h":315,"amp":"lo"},{"f":14.39,"h":319,"amp":"lo"},{"f":14.04,"h":315,"amp":"lo"},{"f":15.34,"h":328,"amp":"lo"},{"f":15.79,"h":315,"amp":"lo"},{"f":16.54,"h":319,"amp":"lo"},{"f":16.84,"h":310,"amp":"lo"},{"f":16.94,"h":310,"amp":"lo"},{"f":17.24,"h":315,"amp":"lo"},{"f":18.09,"h":337,"amp":"lo"},{"f":18.29,"h":319,"amp":"lo"},{"f":18.84,"h":306,"amp":"lo"},{"f":19.24,"h":319,"amp":"lo"},{"f":13.69,"h":292,"amp":"lo"},{"f":14.39,"h":279,"amp":"lo"},{"f":14.84,"h":297,"amp":"lo"},{"f":15.29,"h":283,"amp":"lo"},{"f":15.44,"h":292,"amp":"lo"},{"f":15.59,"h":283,"amp":"lo"},{"f":15.69,"h":288,"amp":"lo"},{"f":15.79,"h":288,"amp":"lo"},{"f":15.89,"h":283,"amp":"lo"},{"f":15.79,"h":265,"amp":"lo"},{"f":15.99,"h":292,"amp":"lo"},{"f":16.04,"h":279,"amp":"lo"},{"f":14.54,"h":256,"amp":"lo"},{"f":14.94,"h":243,"amp":"lo"},{"f":15.04,"h":247,"amp":"lo"},{"f":15.44,"h":243,"amp":"lo"},{"f":15.84,"h":234,"amp":"lo"},{"f":15.84,"h":220,"amp":"lo"},{"f":15.99,"h":252,"amp":"lo"},{"f":15.99,"h":229,"amp":"lo"},{"f":16.14,"h":216,"amp":"lo"},{"f":16.39,"h":247,"amp":"lo"},{"f":16.64,"h":252,"amp":"lo"},{"f":16.74,"h":225,"amp":"lo"},{"f":16.84,"h":220,"amp":"lo"},{"f":16.94,"h":256,"amp":"lo"},{"f":16.89,"h":279,"amp":"lo"},{"f":17.14,"h":243,"amp":"lo"},{"f":17.04,"h":238,"amp":"lo"},{"f":17.14,"h":297,"amp":"lo"},{"f":17.94,"h":288,"amp":"lo"},{"f":18.24,"h":270,"amp":"lo"},{"f":18.69,"h":279,"amp":"lo"},{"f":18.64,"h":265,"amp":"lo"},{"f":18.44,"h":243,"amp":"lo"},{"f":18.84,"h":243,"amp":"lo"},{"f":18.94,"h":252,"amp":"lo"},{"f":18.84,"h":229,"amp":"lo"},{"f":19.14,"h":292,"amp":"lo"},{"f":19.14,"h":270,"amp":"lo"},{"f":19.14,"h":247,"amp":"lo"},{"f":19.44,"h":238,"amp":"lo"},{"f":19.59,"h":238,"amp":"lo"},{"f":19.74,"h":238,"amp":"lo"},{"f":19.59,"h":211,"amp":"lo"},{"f":19.79,"h":216,"amp":"lo"},{"f":19.64,"h":288,"amp":"lo"},{"f":19.94,"h":261,"amp":"lo"},{"f":19.94,"h":229,"amp":"lo"},{"f":17.69,"h":225,"amp":"lo"},{"f":17.64,"h":211,"amp":"lo"},{"f":17.69,"h":207,"amp":"lo"},{"f":16.64,"h":207,"amp":"lo"},{"f":16.69,"h":202,"amp":"lo"},{"f":16.89,"h":198,"amp":"lo"},{"f":17.04,"h":198,"amp":"lo"},{"f":17.19,"h":198,"amp":"lo"},{"f":18.69,"h":198,"amp":"lo"},{"f":19.24,"h":189,"amp":"lo"},{"f":19.54,"h":175,"amp":"lo"},{"f":19.74,"h":189,"amp":"lo"},{"f":14.19,"h":189,"amp":"lo"},{"f":14.34,"h":189,"amp":"lo"},{"f":14.34,"h":198,"amp":"lo"},{"f":14.19,"h":180,"amp":"lo"},{"f":13.79,"h":171,"amp":"lo"},{"f":14.34,"h":162,"amp":"lo"},{"f":15.24,"h":171,"amp":"lo"},{"f":15.79,"h":171,"amp":"lo"},{"f":16.09,"h":145,"amp":"lo"},{"f":16.44,"h":180,"amp":"lo"},{"f":16.69,"h":171,"amp":"lo"},{"f":16.94,"h":171,"amp":"lo"},{"f":17.24,"h":189,"amp":"lo"},{"f":17.64,"h":193,"amp":"lo"},{"f":17.74,"h":175,"amp":"lo"},{"f":17.64,"h":162,"amp":"lo"},{"f":17.69,"h":153,"amp":"lo"},{"f":18.09,"h":175,"amp":"lo"},{"f":18.64,"h":175,"amp":"lo"},{"f":18.64,"h":162,"amp":"lo"},{"f":18.79,"h":148,"amp":"lo"},{"f":18.94,"h":148,"amp":"lo"},{"f":18.99,"h":139,"amp":"lo"},{"f":19.14,"h":166,"amp":"lo"},{"f":19.09,"h":117,"amp":"lo"},{"f":19.64,"h":162,"amp":"lo"},{"f":19.94,"h":136,"amp":"lo"},{"f":13.89,"h":118,"amp":"lo"},{"f":14.34,"h":109,"amp":"lo"},{"f":14.54,"h":105,"amp":"lo"},{"f":14.74,"h":118,"amp":"lo"},{"f":14.94,"h":100,"amp":"lo"},{"f":15.04,"h":103,"amp":"lo"},{"f":15.79,"h":130,"amp":"lo"},{"f":16.89,"h":117,"amp":"lo"},{"f":17.04,"h":94,"amp":"lo"},{"f":17.24,"h":121,"amp":"lo"},{"f":17.54,"h":123,"amp":"lo"},{"f":17.69,"h":132,"amp":"lo"},{"f":17.69,"h":103,"amp":"lo"},{"f":17.79,"h":99,"amp":"lo"},{"f":18.09,"h":132,"amp":"lo"},{"f":18.19,"h":123,"amp":"lo"},{"f":18.39,"h":117,"amp":"lo"},{"f":18.64,"h":117,"amp":"lo"},{"f":18.89,"h":103,"amp":"lo"},{"f":18.09,"h":109,"amp":"lo"},{"f":19.24,"h":117,"amp":"lo"},{"f":19.74,"h":94,"amp":"lo"},{"f":19.94,"h":94,"amp":"lo"},{"f":14.14,"h":94,"amp":"lo"},{"f":14.29,"h":90,"amp":"lo"},{"f":14.49,"h":90,"amp":"lo"},{"f":14.64,"h":94,"amp":"lo"},{"f":14.89,"h":90,"amp":"lo"},{"f":15.14,"h":94,"amp":"lo"},{"f":15.29,"h":94,"amp":"lo"},{"f":15.74,"h":90,"amp":"lo"},{"f":15.99,"h":90,"amp":"lo"},{"f":16.74,"h":90,"amp":"lo"},{"f":16.99,"h":94,"amp":"lo"},{"f":17.24,"h":94,"amp":"lo"},{"f":17.34,"h":90,"amp":"lo"},{"f":18.29,"h":90,"amp":"lo"},{"f":18.69,"h":90,"amp":"lo"},{"f":19.39,"h":90,"amp":"lo"},{"f":19.59,"h":90,"amp":"lo"},{"f":15.09,"h":342,"amp":"hi"},{"f":15.64,"h":333,"amp":"hi"},{"f":17.39,"h":88,"amp":"hi"},
      {"f":6.29,"h":211,"amp":"lo"},{"f":6.47,"h":209,"amp":"hi"},{"f":6.74,"h":207,"amp":"lo"},{"f":6.94,"h":210,"amp":"lo"},{"f":7.07,"h":209,"amp":"lo"},{"f":7.11,"h":209,"amp":"lo"},{"f":7.38,"h":209,"amp":"hi"},{"f":7.44,"h":209,"amp":"lo"},{"f":7.52,"h":209,"amp":"hi"},{"f":7.64,"h":209,"amp":"hi"},{"f":7.74,"h":209,"amp":"hi"},{"f":7.80,"h":209,"amp":"hi"},{"f":7.85,"h":209,"amp":"hi"},{"f":7.92,"h":209,"amp":"lo"},{"f":7.96,"h":209,"amp":"lo"},{"f":8.05,"h":209,"amp":"lo"},{"f":8.18,"h":209,"amp":"hi"},{"f":8.25,"h":209,"amp":"lo"},
      {"f":4.25,"h":109,"amp":"hi"},{"f":4.45,"h":109,"amp":"hi"},{"f":4.50,"h":109,"amp":"hi"},{"f":4.55,"h":109,"amp":"hi"},{"f":4.85,"h":109,"amp":"hi"},{"f":4.90,"h":109,"amp":"hi"},{"f":4.40,"h":104,"amp":"lo"},{"f":4.50,"h":104,"amp":"lo"},{"f":4.70,"h":107,"amp":"lo"},{"f":4.72,"h":110,"amp":"lo"},{"f":4.15,"h":108,"amp":"lo"}
    ],
    "traces": [
      {"trace":"F2o","f":8.07,"h":479},{"trace":"F2o","f":8.40,"h":485},{"trace":"F2o","f":8.73,"h":492},{"trace":"F2o","f":8.98,"h":502},{"trace":"F2o","f":9.19,"h":511},{"trace":"F2o","f":9.36,"h":525},{"trace":"F2o","f":9.48,"h":539},{"trace":"F2o","f":9.58,"h":561},{"trace":"F2o","f":9.63,"h":584},{"trace":"F2o","f":9.69,"h":606},{"trace":"F2o","f":9.71,"h":618},
      {"trace":"F2x","f":9.07,"h":500},{"trace":"F2x","f":9.32,"h":511},{"trace":"F2x","f":9.50,"h":524},{"trace":"F2x","f":9.65,"h":539},{"trace":"F2x","f":9.76,"h":558},{"trace":"F2x","f":9.83,"h":573},{"trace":"F2x","f":9.89,"h":588},{"trace":"F2x","f":9.94,"h":606},{"trace":"F2x","f":9.98,"h":633},{"trace":"F2x","f":9.99,"h":641},
      {"trace":"T16","f":16.58,"h":229},{"trace":"T16","f":16.58,"h":268},{"trace":"T16","f":16.66,"h":268}
    ],
    "thick": [
      {"trace":"Es","f":4.75,"h":105},{"trace":"Es","f":8.42,"h":105},
      {"trace":"F2base","f":8.05,"h":480},{"trace":"F2base","f":8.40,"h":484},{"trace":"F2base","f":8.75,"h":490},{"trace":"F2base","f":9.00,"h":499}
    ],
    "table": [
      {"param":"foF2","value":"9.8 MHz"},
      {"param":"MUF(3000)F2","value":"24.5 MHz"},
      {"param":"M(3000)F2","value":"2.50"},
      {"param":"fxI","value":"10.0 MHz"},
      {"param":"foF1","value":"N/A"},
      {"param":"ftEs","value":"8.4 MHz"},
      {"param":"h'Es","value":"104 km"}
    ]
  },
  "hconcat": [
    {
      "width": 762,
      "height": 303,
      "view": {"stroke": "#ffff00", "strokeWidth": 1},
      "encoding": {
        "x": {"field": "f", "type": "quantitative",
              "scale": {"domain": [0.955, 20.03], "nice": false, "zero": false},
              "axis": {"values": [1,2,3,4,5,6,7,8,9,10,11,12,13,14,15,16,17,18,19,20], "title": "MHz", "titleX": 742, "titleY": 23, "titleAlign": "center", "titleBaseline": "alphabetic", "labelPadding": 5,
                       "gridOpacity": {"condition": {"test": "datum.value == 1 || datum.value == 20", "value": 0}, "value": 1}}},
        "y": {"field": "h", "type": "quantitative",
              "scale": {"domain": [87, 766], "nice": false, "zero": false},
              "axis": {"values": [100,200,300,400,500,600,700,760], "title": "km", "titleAngle": 0, "titleX": -23, "titleY": 19.5, "titleAlign": "center", "titleBaseline": "alphabetic", "labelPadding": 4,
                       "labelOffset": {"condition": {"test": "datum.value > 750", "value": -2}, "value": 0},
                       "gridOpacity": {"condition": {"test": "datum.value > 750", "value": 0}, "value": 1}}}
      },
      "layer": [
        {"data": {"name": "noise"},
         "mark": {"type": "point", "shape": "square", "filled": true, "size": 6, "opacity": 1, "strokeWidth": 0},
         "encoding": {"color": {"field": "amp", "type": "nominal", "scale": {"domain": ["lo", "hi"], "range": ["#888888", "#ffffff"]}, "legend": null}}},
        {"data": {"name": "thick"},
         "mark": {"type": "line", "color": "#ffffff", "strokeWidth": 4.5, "strokeCap": "butt"},
         "encoding": {"detail": {"field": "trace"}}},
        {"data": {"name": "traces"},
         "mark": {"type": "line", "color": "#ffffff", "strokeWidth": 2.2, "strokeCap": "butt"},
         "encoding": {"detail": {"field": "trace"}}}
      ]
    },
    {
      "spacing": 0,
      "hconcat": [
        {
          "width": 95, "height": 212,
          "data": {"name": "table"},
          "encoding": {"y": {"field": "param", "type": "nominal", "sort": null, "axis": null, "scale": {"paddingInner": 0, "paddingOuter": 0}}},
          "layer": [
            {"mark": {"type": "rect", "fill": "#000000", "stroke": "#00e0e0", "strokeWidth": 1}},
            {"mark": {"type": "text", "align": "left", "baseline": "middle", "font": "Liberation Sans", "fontWeight": "bold", "fontSize": 12, "color": "#ffff80"},
             "encoding": {"text": {"field": "param"}, "x": {"value": 5}}}
          ]
        },
        {
          "width": 70, "height": 212,
          "data": {"name": "table"},
          "encoding": {"y": {"field": "param", "type": "nominal", "sort": null, "axis": null, "scale": {"paddingInner": 0, "paddingOuter": 0}}},
          "layer": [
            {"mark": {"type": "rect", "fill": "#000000", "stroke": "#00e0e0", "strokeWidth": 1}},
            {"mark": {"type": "text", "align": "left", "baseline": "middle", "font": "Liberation Sans", "fontWeight": "bold", "fontSize": 12, "color": "#ffff80"},
             "encoding": {"text": {"field": "value"}, "x": {"value": 5}}}
          ]
        }
      ]
    }
  ]
}
